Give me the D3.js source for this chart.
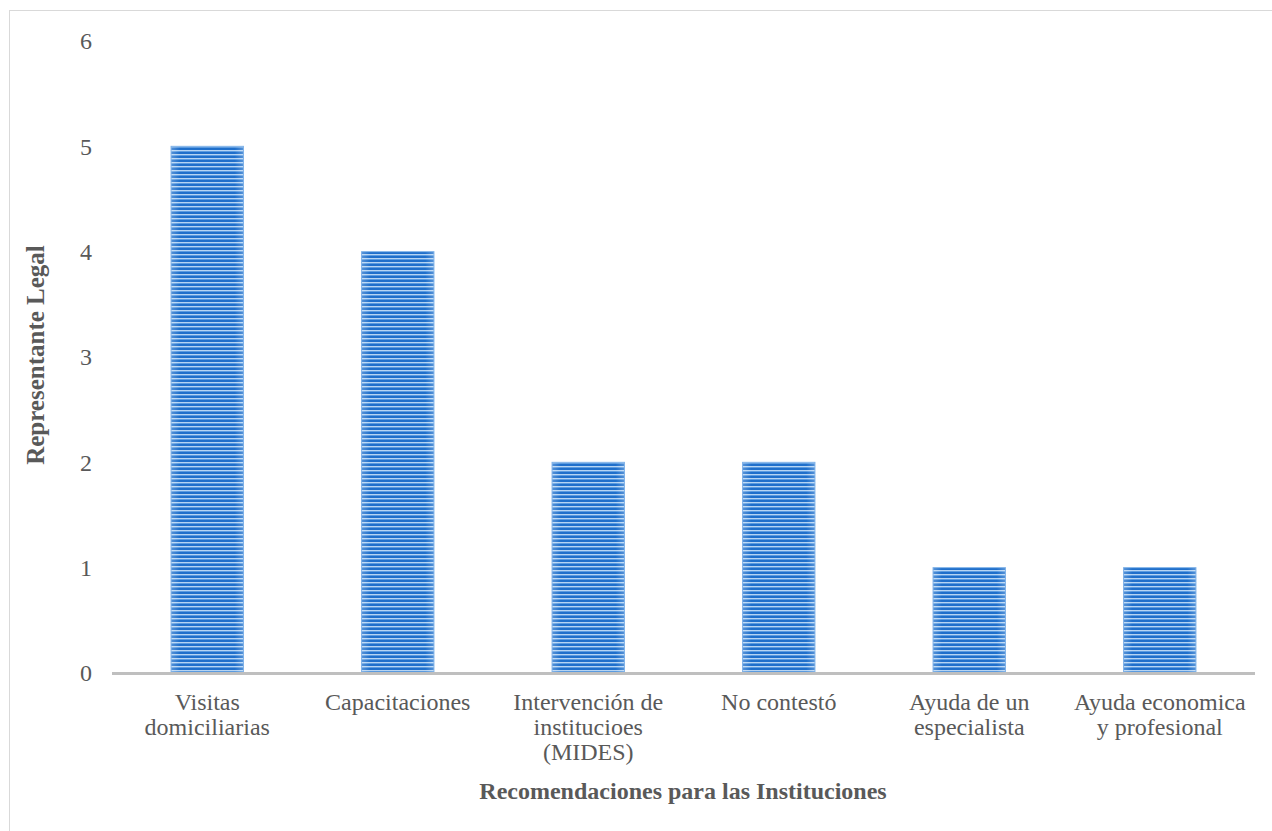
<!DOCTYPE html>
<html><head><meta charset="utf-8">
<script src="https://cdn.jsdelivr.net/npm/d3@7"></script>
<style>body{margin:0;background:#fff}</style>
</head><body>
<svg id="c" width="1272" height="831"></svg>
<script>
const categories = [
  ["Visitas","domiciliarias"],
  ["Capacitaciones"],
  ["Intervención de","institucioes","(MIDES)"],
  ["No contestó"],
  ["Ayuda de un","especialista"],
  ["Ayuda economica","y profesional"]
];
const values = [5, 4, 2, 2, 1, 1];
const yTicks = [0,1,2,3,4,5,6];
const xTitle = "Recomendaciones para las Instituciones";
const yTitle = "Representante Legal";

const svg = d3.select("#c");
const font = "'Liberation Serif','Times New Roman',serif";
const txt = "#595959";

// border
svg.append("rect").attr("x",9.5).attr("y",10.5).attr("width",1300).attr("height",900)
  .attr("fill","none").attr("stroke","#d9d9d9").attr("stroke-width",1);

const defs = svg.append("defs");
const pat = defs.append("pattern").attr("id","stripes").attr("patternUnits","userSpaceOnUse")
  .attr("width",8).attr("height",4);
pat.append("rect").attr("width",8).attr("height",4).attr("fill","#5b9be0");
pat.append("rect").attr("y",0).attr("width",8).attr("height",2).attr("fill","#1f6fcb");
pat.append("rect").attr("y",2).attr("width",8).attr("height",1).attr("fill","#b5d4f3");
const lg = defs.append("linearGradient").attr("id","edge").attr("x1","0").attr("x2","1");
lg.append("stop").attr("offset","0").attr("stop-color","#fff").attr("stop-opacity",0.25);
lg.append("stop").attr("offset","0.12").attr("stop-color","#fff").attr("stop-opacity",0);
lg.append("stop").attr("offset","0.88").attr("stop-color","#fff").attr("stop-opacity",0);
lg.append("stop").attr("offset","1").attr("stop-color","#fff").attr("stop-opacity",0.25);

const x = d3.scaleBand().domain(d3.range(categories.length)).range([112,1255]).paddingInner(0.62).paddingOuter(0.31);
const y = d3.scaleLinear().domain([0,6]).range([673,41]);

// y tick labels
svg.append("g").selectAll("text").data(yTicks).join("text")
  .attr("x",86).attr("y",d=>y(d)).attr("dy","0.35em").attr("text-anchor","middle")
  .attr("font-family",font).attr("font-size",24).attr("fill",txt).text(d=>d);

// bars
const bars = svg.append("g");
bars.selectAll("rect.b").data(values).join("rect").attr("class","b")
  .attr("x",(d,i)=>x(i)).attr("width",x.bandwidth())
  .attr("y",d=>y(d)).attr("height",d=>y(0)-y(d)).attr("fill","url(#stripes)");
bars.selectAll("rect.g").data(values).join("rect").attr("class","g")
  .attr("x",(d,i)=>x(i)).attr("width",x.bandwidth())
  .attr("y",d=>y(d)).attr("height",d=>y(0)-y(d)).attr("fill","url(#edge)")
  .attr("stroke","#7fb2e8").attr("stroke-width",1);

// axis line
svg.append("line").attr("x1",112).attr("x2",1255).attr("y1",y(0)+0.5).attr("y2",y(0)+0.5)
  .attr("stroke","#bfbfbf").attr("stroke-width",3);

// x labels
const xl = svg.append("g").selectAll("text").data(categories).join("text")
  .attr("x",(d,i)=>x(i)+x.bandwidth()/2).attr("y",704).attr("text-anchor","middle")
  .attr("font-family",font).attr("font-size",24).attr("fill",txt);
xl.each(function(d){
  const t=d3.select(this);
  d.forEach((l,j)=>t.append("tspan").attr("x",t.attr("x")).attr("dy",j?25:0).attr("dominant-baseline","middle").text(l));
});

// titles
svg.append("text").attr("x",683).attr("y",793).attr("text-anchor","middle").attr("dominant-baseline","middle")
  .attr("font-family",font).attr("font-size",24).attr("font-weight","bold").attr("fill",txt).text(xTitle);
svg.append("text").attr("transform","translate(38,355) rotate(-90)").attr("text-anchor","middle").attr("dominant-baseline","middle")
  .attr("font-family",font).attr("font-size",25).attr("font-weight","bold").attr("fill",txt).text(yTitle);
</script>
</body></html>
